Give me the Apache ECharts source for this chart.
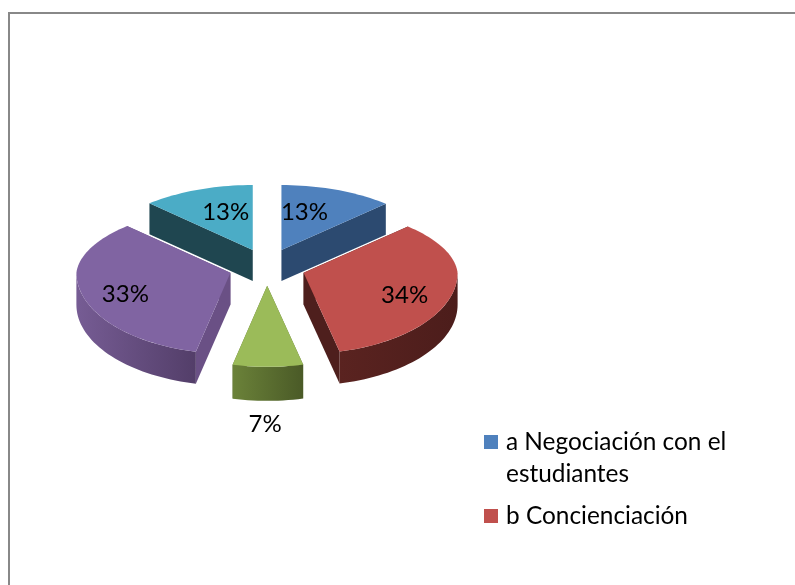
<!DOCTYPE html>
<html>
<head>
<meta charset="utf-8">
<style>html,body{margin:0;padding:0;background:#fff}#c{width:795px;height:585px}</style>
<script src="https://cdn.jsdelivr.net/npm/echarts@6/dist/echarts.min.js"></script>
</head>
<body>
<div id="c"></div>
<script>
// ---- data ----
const categories = ['a Negociación con el estudiantes', 'b Concienciación', 'c', 'd', 'e'];
const sliceShares = [12.4, 33.85, 7.35, 34.15, 12.25];   // angular size of each slice
const percentLabels = [13, 34, 7, 33, 13];               // printed labels
const legendEntries = ['a Negociación con el estudiantes', 'b Concienciación'];

// ---- styling ----
const FONT = 'Lato, "Open Sans", sans-serif';
const topColors = ['#4f81bd', '#c0504d', '#9bbb59', '#8064a2', '#4bacc6'];
const cutColors = ['#2c4a70', '#4e1f1d', '#5a6e30', '#6a5085', '#1f4650'];
const wallStops = [
  ['#2c4a70', '#2c4a70'], ['#5a2320', '#4c1d1b'], ['#6b8239', '#4a5a27'],
  ['#765c94', '#533e69'], ['#1f4650', '#1f4650']
];
const labelOffsets = [[23, -38], [101, 22], [-2, 138], [-105, 21], [-27, -38]];
const sliceDepths = [31, 32, 34, 32, 31];

// ---- 3-D pie projection ----
const CX = 267, CY = 268, RX = 154, RY_BACK = 65, RY_FRONT = 81, EXPLODE = 38;
const total = sliceShares.reduce((a, b) => a + b, 0);
const rad = d => d * Math.PI / 180;
let cum = 0;
const ranges = sliceShares.map(v => { const a = cum / total * 360; cum += v; return [a, cum / total * 360]; });

function apexOf(a, b) {
  const m = rad((a + b) / 2), c = Math.cos(m);
  return [CX + EXPLODE * Math.sin(m), CY - EXPLODE * c * (c > 0 ? 0.51 : 0.47)];
}
function rim(ap, deg, dy) {
  const t = rad(deg), c = Math.cos(t);
  const rx = RX * (c > 0 ? 1 - 0.05 * c : 1);   // the far side shrinks slightly in perspective
  return [ap[0] + rx * Math.sin(t), ap[1] - (c > 0 ? RY_BACK : RY_FRONT) * c + (dy || 0)];
}
function arc(ap, a, b, dy) {
  const pts = [], n = Math.max(2, Math.ceil((b - a) / 2));
  for (let i = 0; i <= n; i++) pts.push(rim(ap, a + (b - a) * i / n, dy));
  return pts;
}
const poly = (points, fill, z2) => ({ type: 'polygon', z2, silent: true, shape: { points }, style: { fill } });

function renderSlice(i) {
  return function (params, api) {
    const [a, b] = ranges[i];
    const depth = sliceDepths[i];
    const ap = apexOf(a, b), kids = [];
    const s = rim(ap, a), e = rim(ap, b);
    const down = p => [p[0], p[1] + depth];
    kids.push(poly([ap, s, down(s), down(ap)], cutColors[i], 1));
    kids.push(poly([ap, e, down(e), down(ap)], cutColors[i], 1));
    const wa = Math.max(a, 90), wb = Math.min(b, 270);
    if (wb > wa) {
      const upper = arc(ap, wa, wb), lower = arc(ap, wa, wb, depth).reverse();
      const g = new echarts.graphic.LinearGradient(0, 0, 1, 0, [
        { offset: 0, color: wallStops[i][0] }, { offset: 1, color: wallStops[i][1] }]);
      kids.push(poly(upper.concat(lower), g, 2));
    }
    kids.push(poly([ap].concat(arc(ap, a, b)), topColors[i], 3));
    const off = labelOffsets[i];
    kids.push({
      type: 'text', z2: 10, silent: true,
      style: { text: percentLabels[i] + '%', x: ap[0] + off[0], y: ap[1] + off[1],
        fill: '#000', fontFamily: FONT, fontSize: 24, align: 'center', verticalAlign: 'middle' }
    });
    return { type: 'group', children: kids };
  };
}

const depthOrder = ranges.map(r => Math.round(100 - 90 * Math.cos(rad((r[0] + r[1]) / 2))));

const chart = echarts.init(document.getElementById('c'), null, { renderer: 'canvas' });
chart.setOption({
  animation: false,
  backgroundColor: '#ffffff',
  legend: {
    data: legendEntries,
    orient: 'vertical',
    left: 484, top: 430, padding: 0,
    itemWidth: 14, itemHeight: 14, itemGap: 50,
    icon: 'rect',
    selectedMode: false,
    formatter: name => name.replace(' estudiantes', ''),
    textStyle: { fontFamily: FONT, fontSize: 24.4, color: '#000', padding: [0, 0, 0, 3] }
  },
  graphic: [
    { type: 'polyline', silent: true, shape: { points: [[9, 585], [9, 13], [795, 13]] },
      style: { stroke: '#888888', lineWidth: 2, fill: null } },
    { type: 'text', silent: true, left: 506, top: 462,
      style: { text: 'estudiantes', fill: '#000', fontFamily: FONT, fontSize: 24.4 } }
  ],
  series: categories.map((name, i) => ({
    type: 'custom',
    name,
    coordinateSystem: 'none',
    z: depthOrder[i],
    itemStyle: { color: topColors[i] },
    renderItem: renderSlice(i),
    data: [[sliceShares[i]]]
  }))
});
</script>
</body>
</html>
